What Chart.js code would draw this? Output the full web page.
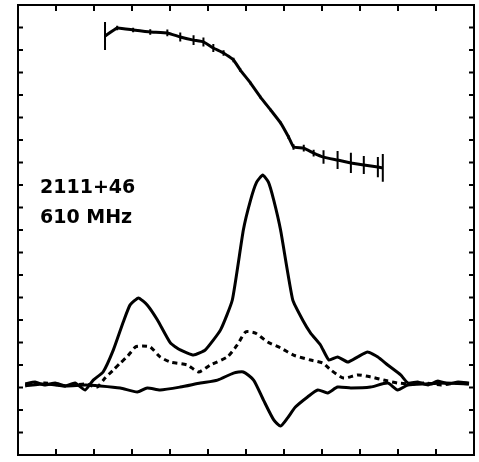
<!DOCTYPE html>
<html>
<head>
<meta charset="utf-8">
<script src="https://cdn.jsdelivr.net/npm/chart.js@4.4.0/dist/chart.umd.min.js"></script>
<style>
  html, body { margin: 0; padding: 0; background: #fff; }
  #wrap { width: 479px; height: 462px; }
</style>
</head>
<body>
<div id="wrap"><canvas id="profile"></canvas></div>
<script>
// pulse longitude in tick divisions, intensity in tick divisions
const lonI = [0.19, 0.45, 0.71, 0.98, 1.24, 1.50, 1.77, 1.98, 2.24, 2.51, 2.77, 2.95, 3.17, 3.40, 3.67, 4.01, 4.27, 4.62, 4.93, 5.33, 5.64, 5.93, 6.12, 6.28, 6.44, 6.59, 6.73, 6.91, 7.23, 7.49, 7.70, 7.96, 8.18, 8.41, 8.68, 8.94, 9.20, 9.47, 9.73, 10.07, 10.26, 10.52, 10.79, 11.05, 11.31, 11.58, 11.87];
const totalI = [3.16, 3.24, 3.11, 3.20, 3.07, 3.20, 2.89, 3.33, 3.69, 4.67, 5.91, 6.67, 6.98, 6.67, 6.00, 4.98, 4.67, 4.44, 4.67, 5.56, 6.89, 10.0, 11.33, 12.13, 12.44, 12.13, 11.33, 10.0, 6.89, 6.00, 5.42, 4.89, 4.22, 4.36, 4.13, 4.36, 4.58, 4.36, 4.00, 3.56, 3.20, 3.24, 3.11, 3.29, 3.16, 3.24, 3.20];

const lonL = [0.19, 0.71, 1.24, 1.77, 2.08, 2.29, 2.51, 2.69, 2.87, 3.09, 3.27, 3.48, 3.74, 4.01, 4.46, 4.75, 5.06, 5.51, 5.77, 5.99, 6.25, 6.57, 6.91, 7.25, 7.70, 8.02, 8.23, 8.57, 8.94, 9.28, 9.62, 9.99, 10.34, 10.73, 11.13, 11.52, 11.87];
const linL = [3.11, 3.20, 3.07, 3.16, 3.02, 3.42, 3.78, 4.09, 4.36, 4.80, 4.84, 4.80, 4.36, 4.13, 4.00, 3.69, 4.00, 4.36, 4.89, 5.47, 5.42, 5.02, 4.76, 4.44, 4.22, 4.09, 3.78, 3.42, 3.56, 3.47, 3.33, 3.20, 3.16, 3.20, 3.11, 3.20, 3.16];

const lonV = [0.19, 0.71, 1.24, 1.77, 2.16, 2.69, 3.14, 3.40, 3.74, 4.27, 4.80, 5.25, 5.67, 5.93, 6.20, 6.46, 6.73, 6.91, 7.09, 7.30, 7.62, 7.89, 8.15, 8.41, 8.76, 9.28, 9.73, 9.99, 10.26, 10.73, 11.26, 11.87];
const circV = [3.07, 3.16, 3.07, 3.11, 3.07, 2.98, 2.80, 2.98, 2.89, 3.02, 3.20, 3.33, 3.64, 3.69, 3.33, 2.44, 1.56, 1.29, 1.64, 2.13, 2.58, 2.89, 2.76, 3.02, 2.98, 3.02, 3.20, 2.89, 3.11, 3.16, 3.20, 3.16];

// position angle sweep, plotted above the profile, with error bars
const lonPA = [2.29, 2.61, 3.03, 3.48, 3.93, 4.27, 4.62, 4.88, 5.14, 5.41, 5.67, 5.85, 6.12, 6.38, 6.65, 6.91, 7.12, 7.25, 7.52, 7.78, 8.04, 8.41, 8.76, 9.10, 9.47, 9.60];
const posAng = [18.62, 18.98, 18.89, 18.80, 18.76, 18.58, 18.44, 18.36, 18.09, 17.87, 17.56, 17.11, 16.53, 15.91, 15.33, 14.76, 14.13, 13.69, 13.64, 13.42, 13.24, 13.11, 12.98, 12.89, 12.80, 12.76];
const posAngErr = [0.62, 0.10, 0.10, 0.12, 0.15, 0.20, 0.22, 0.20, 0.18, 0.12, 0.10, 0.08, 0.06, 0.06, 0.06, 0.06, 0.08, 0.12, 0.15, 0.15, 0.30, 0.40, 0.45, 0.40, 0.45, 0.62];

const labelLines = ['2111+46', '610 MHz'];

function pts(xs, ys) {
    return xs.map((x, i) => ({ x: x, y: ys[i] }));
}

// frame with inward ticks on all four sides
const framePlugin = {
    id: 'frame',
    afterDraw(chart) {
        const { ctx, chartArea: a, scales } = chart;
        ctx.save();
        ctx.strokeStyle = '#000';
        ctx.lineWidth = 2;
        ctx.strokeRect(a.left, a.top, a.right - a.left, a.bottom - a.top);
        const xs = scales.x, ys = scales.y;
        ctx.beginPath();
        for (let v = Math.ceil(xs.min) + 1; v < xs.max; v++) {
            const px = xs.getPixelForValue(v);
            ctx.moveTo(px, a.top); ctx.lineTo(px, a.top + 6);
            ctx.moveTo(px, a.bottom); ctx.lineTo(px, a.bottom - 6);
        }
        for (let v = Math.ceil(ys.min) + 1; v < ys.max; v++) {
            const py = ys.getPixelForValue(v);
            ctx.moveTo(a.left, py); ctx.lineTo(a.left + 5, py);
            ctx.moveTo(a.right, py); ctx.lineTo(a.right - 5, py);
        }
        ctx.stroke();

        ctx.fillStyle = '#000';
        ctx.font = 'bold 19px "DejaVu Sans"';
        ctx.fillText(labelLines[0], a.left + 22, a.top + 188);
        ctx.fillText(labelLines[1], a.left + 22, a.top + 218);
        ctx.restore();
    }
};

// vertical error bars on the position angle points
const errPlugin = {
    id: 'paErrors',
    afterDatasetsDraw(chart) {
        const { ctx, scales } = chart;
        ctx.save();
        ctx.strokeStyle = '#000';
        ctx.lineWidth = 2;
        ctx.beginPath();
        lonPA.forEach((x, i) => {
            const px = scales.x.getPixelForValue(x);
            ctx.moveTo(px, scales.y.getPixelForValue(posAng[i] + posAngErr[i]));
            ctx.lineTo(px, scales.y.getPixelForValue(posAng[i] - posAngErr[i]));
        });
        ctx.stroke();
        ctx.restore();
    }
};

new Chart(document.getElementById('profile'), {
    type: 'line',
    data: {
        datasets: [
            { label: 'I', data: pts(lonI, totalI), borderColor: '#000', borderWidth: 3, pointRadius: 0, tension: 0.15 },
            { label: 'L', data: pts(lonL, linL), borderColor: '#000', borderWidth: 3, borderDash: [5, 4], pointRadius: 0, tension: 0.2 },
            { label: 'V', data: pts(lonV, circV), borderColor: '#000', borderWidth: 3, pointRadius: 0, tension: 0.2 },
            { label: 'PA', data: pts(lonPA, posAng), borderColor: '#000', borderWidth: 3, pointRadius: 0, tension: 0.1 }
        ]
    },
    options: {
        responsive: true,
        maintainAspectRatio: false,
        animation: false,
        layout: { padding: { left: 18, top: 5, right: 5, bottom: 7 } },
        plugins: { legend: { display: false }, tooltip: { enabled: false } },
        scales: {
            x: { type: 'linear', min: 0, max: 12, display: false },
            y: { min: 0, max: 20, display: false }
        }
    },
    plugins: [framePlugin, errPlugin]
});
</script>
</body>
</html>
